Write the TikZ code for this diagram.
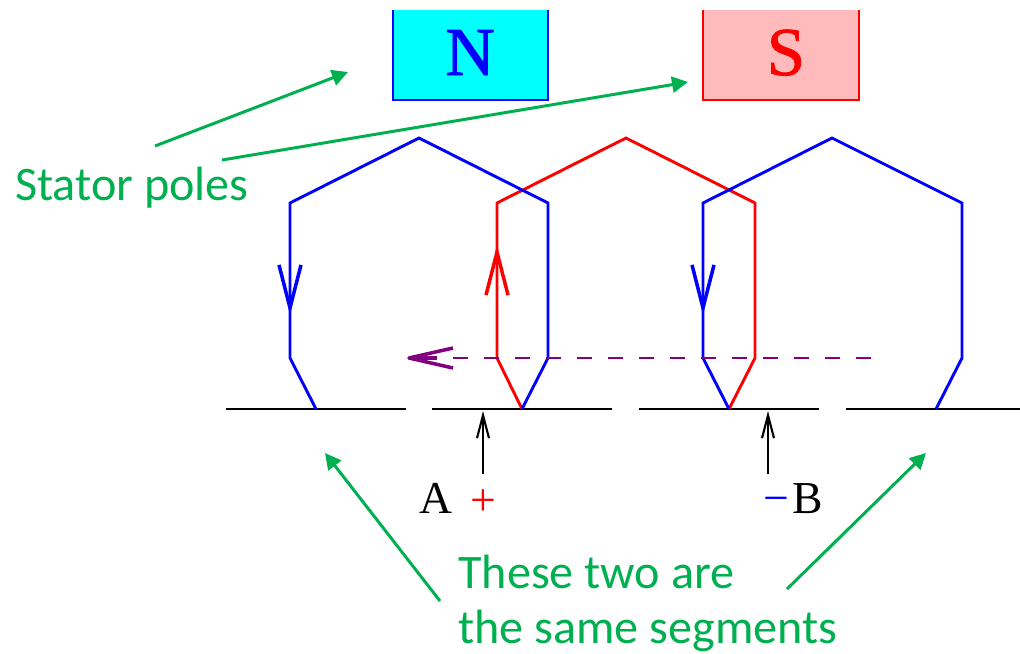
\documentclass[tikz,border=0pt]{standalone}
\usepackage{fontspec}
\setmainfont{Liberation Serif}
\newfontfamily\notefont{Carlito}
\newfontfamily\polefont[FakeBold=1.2]{Liberation Serif}
\usepackage{tikz}
\usetikzlibrary{arrows.meta}
\definecolor{notegreen}{RGB}{0,176,80}
\definecolor{polepink}{RGB}{255,187,187}
\definecolor{polecyan}{RGB}{0,255,255}
\definecolor{trackpurple}{RGB}{128,0,128}

\begin{document}
\begin{tikzpicture}[x=0.02cm, y=-0.02cm, line join=miter,
	wire/.style={line width=1.65pt},
	barb/.style={-{Straight Barb[length=8.6mm, width=4.4mm, line width=2pt]}},
	feed/.style={black, line width=1.2pt, -{Straight Barb[length=4.6mm, width=2.4mm, line width=1.2pt]}},
	note/.style={notegreen, line width=1.7pt, -{Triangle[length=3.2mm, width=3.2mm]}},
	notetext/.style={text=notegreen, font=\notefont\fontsize{27.4}{30}\selectfont, anchor=base west, inner sep=0pt},
	lbl/.style={font=\fontsize{26}{30}\selectfont, anchor=base, inner sep=0pt},
	polelbl/.style={font=\polefont\fontsize{39}{40}\selectfont, anchor=base, inner sep=0pt}]
	\useasboundingbox (0,0) rectangle (1020,653);
	% magnets
	\fill[polecyan] (393,10) rectangle (548,100);
	\fill[polepink] (703,10) rectangle (859,100);
	\draw[blue, wire] (393,10) -- (393,100) -- (548,100) -- (548,10);
	\draw[red, wire] (703,10) -- (703,100) -- (859,100) -- (859,10);
	\node[polelbl, text=blue] (N) at (470,75) {N};
	\node[polelbl, text=red] (S) at (786,75) {S};
	% commutator segments
	\foreach \name/\xa/\xb in {s1/226/406, s2/432/612, s3/639/819, s4/846/1020}{
		\coordinate (\name a) at (\xa,409);
		\coordinate (\name b) at (\xb,409);
		\draw[black, wire] (\name a) -- (\name b);
	}
	% coils
	\coordinate (k1) at (316,409);
	\coordinate (k2) at (522,409);
	\coordinate (k3) at (729,409);
	\coordinate (k4) at (936,409);
	\coordinate (tipa) at (290,315);
	\coordinate (tipb) at (497,245);
	\coordinate (tipc) at (703,315);
	\draw[red, wire] (k2) -- (497,358) -- (497,203) -- (626,138) -- (755,203) -- (755,358) -- (k3);
	\draw[blue, wire] (k1) -- (290,358) -- (290,203) -- (419,138) -- (548,203) -- (548,358) -- (k2);
	\draw[blue, wire] (k3) -- (703,358) -- (703,203) -- (832,138) -- (962,203) -- (962,358) -- (k4);
	\draw[blue, wire, barb] (290,260) -- (tipa);
	\draw[red, wire, barb] (497,300) -- (tipb);
	\draw[blue, wire, barb] (703,260) -- (tipc);
	% motion of the coils
	\coordinate (mv1) at (872,358);
	\coordinate (mv2) at (409,358);
	\coordinate (mv3) at (453,358);
	\coordinate (mv4) at (437,358);
	\draw[trackpurple, wire, dash pattern=on 8.5pt off 9.14pt] (mv3) -- (mv1);
	\draw[trackpurple, line width=2pt, line join=round] (453,348) -- (mv2) -- (453,368);
	\draw[trackpurple, line width=2pt] (mv4) -- (mv2);
	% brushes
	\node[lbl] (A) at (436,513) {A};
	\node[lbl, text=red] (plus) at (483.5,515) {+};
	\node[lbl, text=blue] (minus) at (776.5,513) {−};
	\node[lbl] (B) at (808,513) {B};
	\coordinate (fa) at (483,474);
	\coordinate (ta) at (483,411);
	\coordinate (fb) at (768,474);
	\coordinate (tb) at (768,411);
	\draw[feed] (fa) -- (ta);
	\draw[feed] (fb) -- (tb);
	% notes
	\node[notetext] (stator) at (15,200) {Stator poles};
	\node[notetext] (two) at (458,588) {These two are};
	\node[notetext] (same) at (458,643) {the same segments};
	\coordinate (n1) at (155,146);
	\coordinate (n2) at (348,72);
	\coordinate (n3) at (222,160);
	\coordinate (n4) at (688,82);
	\coordinate (n5) at (440,601);
	\coordinate (n6) at (325,453);
	\coordinate (n7) at (787,589);
	\coordinate (n8) at (926,453);
	\draw[note] (n1) -- (n2);
	\draw[note] (n3) -- (n4);
	\draw[note] (n5) -- (n6);
	\draw[note] (n7) -- (n8);
\end{tikzpicture}
\end{document}
